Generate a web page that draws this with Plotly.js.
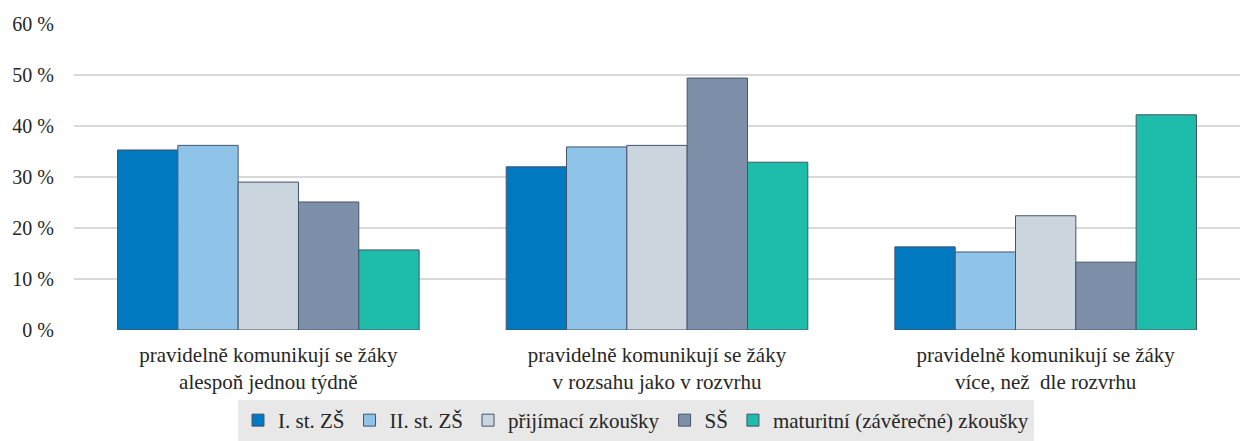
<!DOCTYPE html>
<html>
<head>
<meta charset="utf-8">
<script src="https://cdn.plot.ly/plotly-3.0.1.min.js"></script>
<style>html,body{margin:0;padding:0;background:#fff;}#chart{width:1240px;height:441px;}</style>
</head>
<body>
<div id="chart"></div>
<script>
var categories = [
  "pravidelně komunikují se žáky<br>alespoň jednou týdně",
  "pravidelně komunikují se žáky<br>v rozsahu jako v rozvrhu",
  "pravidelně komunikují se žáky<br>více, než  dle rozvrhu"
];
var seriesNames = ["I. st. ZŠ", "II. st. ZŠ", "přijímací zkoušky", "SŠ", "maturitní (závěrečné) zkoušky"];
var seriesColors = ["#0079c1", "#8fc3e8", "#cad5de", "#7e90a9", "#1ebcaa"];
var vals_I_ZS = [35.3, 32.0, 16.3];
var vals_II_ZS = [36.2, 35.9, 15.3];
var vals_prijimaci = [29.0, 36.2, 22.4];
var vals_SS = [25.1, 49.4, 13.3];
var vals_maturitni = [15.7, 32.9, 42.2];
var seriesValues = [vals_I_ZS, vals_II_ZS, vals_prijimaci, vals_SS, vals_maturitni];
var yTickVals = [0, 10, 20, 30, 40, 50, 60];
var yTickText = ["0 %", "10 %", "20 %", "30 %", "40 %", "50 %", "60 %"];

var FONT = "Liberation Serif";

var traces = seriesNames.map(function(name, i){
  return {
    type: "bar",
    name: name,
    x: categories,
    y: seriesValues[i],
    marker: {color: seriesColors[i], line: {color: "#44546a", width: 1}},
    hoverinfo: "none"
  };
});

var layout = {
  width: 1240, height: 441,
  margin: {l: 74, r: 0, t: 24, b: 111, pad: 0},
  paper_bgcolor: "#ffffff",
  plot_bgcolor: "#ffffff",
  font: {family: FONT, color: "#262626", size: 20},
  barmode: "group",
  bargap: 0.224,
  bargroupgap: 0,
  showlegend: true,
  legend: {
    orientation: "h",
    xref: "paper",
    x: 0.482, xanchor: "center",
    yref: "container",
    y: -0.0136, yanchor: "bottom",
    bgcolor: "#e8e8e8",
    borderwidth: 0,
    font: {family: FONT, size: 21, color: "#262626"},
    itemwidth: 30,
    traceorder: "normal"
  },
  xaxis: {
    type: "category",
    showgrid: false,
    showline: false,
    zeroline: false,
    ticks: "",
    tickfont: {family: FONT, size: 21, color: "#262626"},
    ticklabelstandoff: 10
  },
  yaxis: {
    range: [0, 60],
    tickvals: yTickVals,
    ticktext: yTickText,
    showgrid: true,
    gridcolor: "#d9d9d9",
    gridwidth: 2,
    zeroline: false,
    showline: false,
    ticks: "",
    tickfont: {family: FONT, size: 20, color: "#262626"},
    ticklabelstandoff: 19
  }
};

Plotly.newPlot("chart", traces, layout, {staticPlot: true, displayModeBar: false});
</script>
</body>
</html>
